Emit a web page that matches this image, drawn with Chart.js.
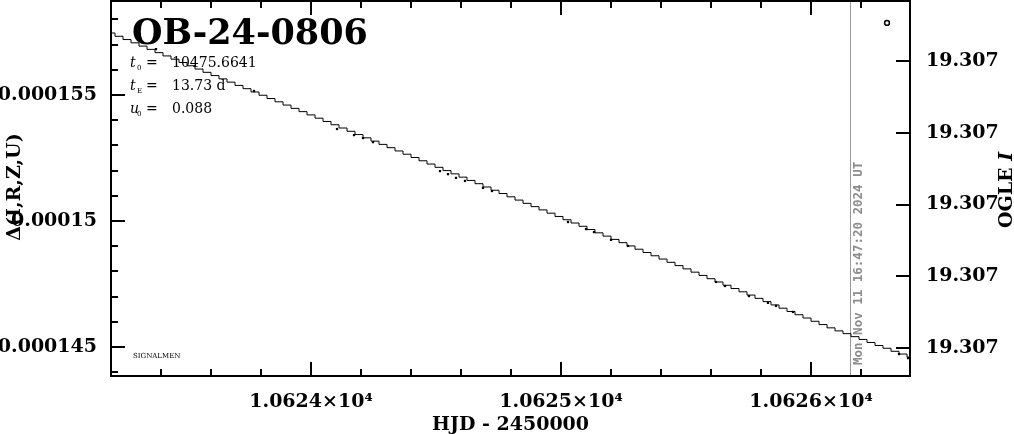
<!DOCTYPE html>
<html>
<head>
<meta charset="utf-8">
<script src="https://cdn.jsdelivr.net/npm/chart.js@4"></script>
<style>
  html, body { margin: 0; padding: 0; background: #fff; }
  #lc { display: block; }
</style>
</head>
<body>
<canvas id="lc" width="1014" height="434"></canvas>
<script>
// model light curve (stairs), HJD - 2450000 vs delta flux
const modelT = [
  10623.200, 10623.232, 10623.264, 10623.296, 10623.328, 10623.360, 10623.392, 10623.424, 10623.456, 10623.488,
  10623.520, 10623.552, 10623.584, 10623.616, 10623.648, 10623.680, 10623.712, 10623.744, 10623.776, 10623.808,
  10623.840, 10623.872, 10623.904, 10623.936, 10623.968, 10624.000, 10624.032, 10624.064, 10624.096, 10624.128,
  10624.160, 10624.192, 10624.224, 10624.256, 10624.288, 10624.320, 10624.352, 10624.384, 10624.416, 10624.448,
  10624.480, 10624.512, 10624.544, 10624.576, 10624.608, 10624.640, 10624.672, 10624.704, 10624.736, 10624.768,
  10624.800, 10624.832, 10624.864, 10624.896, 10624.928, 10624.960, 10624.992, 10625.024, 10625.056, 10625.088,
  10625.120, 10625.152, 10625.184, 10625.216, 10625.248, 10625.280, 10625.312, 10625.344, 10625.376, 10625.408,
  10625.440, 10625.472, 10625.504, 10625.536, 10625.568, 10625.600, 10625.632, 10625.664, 10625.696, 10625.728,
  10625.760, 10625.792, 10625.824, 10625.856, 10625.888, 10625.920, 10625.952, 10625.984, 10626.016, 10626.048,
  10626.080, 10626.112, 10626.144, 10626.176, 10626.208, 10626.240, 10626.272, 10626.304, 10626.336, 10626.368,
  10626.400
];
const modelV = [
  0.00015746, 0.00015733, 0.00015720, 0.00015707, 0.00015694, 0.00015681, 0.00015668, 0.00015655, 0.00015642, 0.00015629,
  0.00015616, 0.00015603, 0.00015590, 0.00015577, 0.00015564, 0.00015551, 0.00015538, 0.00015525, 0.00015512, 0.00015499,
  0.00015486, 0.00015473, 0.00015460, 0.00015447, 0.00015434, 0.00015421, 0.00015408, 0.00015395, 0.00015382, 0.00015369,
  0.00015356, 0.00015343, 0.00015330, 0.00015317, 0.00015304, 0.00015291, 0.00015278, 0.00015265, 0.00015252, 0.00015239,
  0.00015226, 0.00015213, 0.00015200, 0.00015187, 0.00015174, 0.00015161, 0.00015148, 0.00015135, 0.00015122, 0.00015109,
  0.00015096, 0.00015083, 0.00015070, 0.00015057, 0.00015044, 0.00015031, 0.00015018, 0.00015005, 0.00014992, 0.00014979,
  0.00014966, 0.00014953, 0.00014940, 0.00014927, 0.00014914, 0.00014901, 0.00014888, 0.00014875, 0.00014862, 0.00014849,
  0.00014836, 0.00014823, 0.00014810, 0.00014797, 0.00014784, 0.00014771, 0.00014758, 0.00014745, 0.00014732, 0.00014719,
  0.00014706, 0.00014693, 0.00014680, 0.00014667, 0.00014654, 0.00014641, 0.00014628, 0.00014615, 0.00014602, 0.00014589,
  0.00014576, 0.00014564, 0.00014553, 0.00014541, 0.00014530, 0.00014518, 0.00014506, 0.00014495, 0.00014483, 0.00014472,
  0.00014460
];

// OGLE points sitting on the model
const obsT = [10623.380, 10623.772, 10624.104, 10624.172, 10624.208, 10624.248, 10624.516, 10624.548, 10624.580,
  10624.616, 10624.688, 10624.724, 10625.028, 10625.100, 10625.132, 10625.200, 10625.268, 10625.620, 10625.656,
  10625.752, 10625.828, 10625.860, 10625.928, 10626.352, 10626.388];
const obsV = [0.00015682, 0.00015516, 0.00015365, 0.00015341, 0.00015329, 0.00015313, 0.00015198, 0.00015186, 0.00015171,
  0.00015159, 0.00015131, 0.00015119, 0.00014996, 0.00014968, 0.00014956, 0.00014925, 0.00014901, 0.00014758, 0.00014742,
  0.00014702, 0.00014675, 0.00014663, 0.00014639, 0.00014472, 0.00014456];

// open marker top right
const markT = [10626.304];
const markV = [0.00015786];

// axes
const xTicks = [10624, 10625, 10626];
const xTickLabels = ['1.0624\u00d710\u2074', '1.0625\u00d710\u2074', '1.0626\u00d710\u2074'];
const yTicks = [0.000145, 0.00015, 0.000155];
const yTickLabels = ['0.000145', '0.00015', '0.000155'];
const magTicks = [19.3066, 19.3067, 19.3068, 19.3069, 19.3070];
const nowT = 10626.158;

const SERIF = '"DejaVu Serif", serif';

const frameTicks = {
  id: 'frameTicks',
  beforeDatasetsDraw(chart) {
    const ctx = chart.ctx, a = chart.chartArea, x = chart.scales.x;
    const xn = Math.round(x.getPixelForValue(nowT)) + 0.5;
    ctx.save();
    ctx.strokeStyle = '#9a9a9a';
    ctx.lineWidth = 1;
    ctx.beginPath();
    ctx.moveTo(xn, a.top);
    ctx.lineTo(xn, a.bottom);
    ctx.stroke();
    ctx.translate(xn + 8, a.bottom - 11);
    ctx.rotate(-Math.PI / 2);
    ctx.fillStyle = '#8c8c8c';
    ctx.font = 'bold 12.5px "DejaVu Sans Mono", monospace';
    ctx.textBaseline = 'middle';
    ctx.textAlign = 'left';
    ctx.fillText('Mon Nov 11 16:47:20 2024 UT', 0, 0);
    ctx.restore();
  },
  afterDatasetsDraw(chart) {
    const ctx = chart.ctx, a = chart.chartArea;
    const x = chart.scales.x, y = chart.scales.y, m = chart.scales.mag;
    ctx.save();
    ctx.strokeStyle = '#000';
    ctx.lineWidth = 2;
    ctx.strokeRect(a.left, a.top, a.right - a.left, a.bottom - a.top);

    ctx.lineWidth = 2;
    ctx.beginPath();
    // x ticks, bottom and top
    for (let i = 0; i <= 16; i++) {
      const v = 10623.2 + i * 0.2;
      const px = Math.round(x.getPixelForValue(v));
      if (px <= a.left + 1 || px >= a.right - 1) continue;
      const major = Math.abs(v - Math.round(v)) < 1e-6;
      const len = major ? 14 : 7;
      ctx.moveTo(px, a.bottom); ctx.lineTo(px, a.bottom - len);
      ctx.moveTo(px, a.top); ctx.lineTo(px, a.top + len);
    }
    // left ticks
    for (let k = 144; k <= 158; k++) {
      const v = k * 1e-6;
      const py = Math.round(y.getPixelForValue(v));
      if (py <= a.top + 1 || py >= a.bottom) continue;
      const len = (k % 5 === 0) ? 14 : 7;
      ctx.moveTo(a.left, py); ctx.lineTo(a.left + len, py);
    }
    // right ticks (mag)
    magTicks.forEach(v => {
      const py = Math.round(m.getPixelForValue(v));
      ctx.moveTo(a.right, py); ctx.lineTo(a.right - 14, py);
    });
    ctx.stroke();

    // title + parameters
    ctx.fillStyle = '#000';
    ctx.textBaseline = 'alphabetic';
    ctx.textAlign = 'left';
    ctx.font = 'bold 35px ' + SERIF;
    ctx.fillText('OB-24-0806', 132, 44);

    const rows = [['0', '10475.6641', 67], ['E', '13.73 d', 90], ['0', '0.088', 113]];
    rows.forEach((r, i) => {
      ctx.font = 'italic 14px ' + SERIF;
      ctx.fillText(i === 2 ? 'u' : 't', 130, r[2]);
      ctx.font = '7px ' + SERIF;
      ctx.fillText(r[0], 137, r[2] + 3);
      ctx.font = '14px ' + SERIF;
      ctx.fillText('=', 146, r[2]);
      ctx.fillText(r[1], 172, r[2]);
    });

    ctx.font = '7px ' + SERIF;
    ctx.fillText('SIGNALMEN', 133, 358);

    // axis titles
    ctx.font = 'bold 19px ' + SERIF;
    ctx.textAlign = 'center';
    ctx.textBaseline = 'middle';
    ctx.fillText('HJD - 2450000', (a.left + a.right) / 2, 425);

    ctx.save();
    ctx.translate(15, 187);
    ctx.rotate(-Math.PI / 2);
    ctx.fillText('\u0394(I,R,Z,U)', 0, 0);
    ctx.restore();

    ctx.save();
    ctx.translate(1007, 190);
    ctx.rotate(-Math.PI / 2);
    ctx.font = 'bold 19px ' + SERIF;
    const w1 = ctx.measureText('OGLE ').width;
    ctx.font = 'bold italic 19px ' + SERIF;
    const w2 = ctx.measureText('I').width;
    ctx.textAlign = 'left';
    ctx.font = 'bold 19px ' + SERIF;
    ctx.fillText('OGLE ', -(w1 + w2) / 2, 0);
    ctx.font = 'bold italic 19px ' + SERIF;
    ctx.fillText('I', -(w1 + w2) / 2 + w1, 0);
    ctx.restore();

    ctx.restore();
  }
};

const tickFont = { family: SERIF, size: 19, weight: 'bold' };

new Chart(document.getElementById('lc'), {
  data: {
    datasets: [
      {
        type: 'line',
        data: modelT.map((t, i) => ({ x: t, y: modelV[i] })),
        stepped: 'middle',
        borderColor: '#000',
        borderWidth: 1,
        pointRadius: 0,
        fill: false
      },
      {
        type: 'scatter',
        data: obsT.map((t, i) => ({ x: t, y: obsV[i] })),
        pointStyle: 'rect',
        pointRadius: 1.6,
        backgroundColor: '#000',
        borderColor: '#000',
        borderWidth: 0
      },
      {
        type: 'scatter',
        data: markT.map((t, i) => ({ x: t, y: markV[i] })),
        pointStyle: 'circle',
        pointRadius: 2.4,
        backgroundColor: 'rgba(0,0,0,0)',
        borderColor: '#000',
        borderWidth: 1.5
      }
    ]
  },
  options: {
    responsive: false,
    animation: false,
    devicePixelRatio: 1,
    layout: { autoPadding: false, padding: { top: 1, left: 0, right: 0, bottom: 0 } },
    plugins: { legend: { display: false }, tooltip: { enabled: false } },
    scales: {
      x: {
        type: 'linear',
        position: 'bottom',
        min: 10623.2,
        max: 10626.396,
        grid: { display: false },
        border: { display: false },
        afterBuildTicks: s => { s.ticks = xTicks.map(v => ({ value: v })); },
        afterFit: s => { s.height = 58; s.paddingLeft = 0; s.paddingRight = 0; },
        ticks: {
          color: '#000',
          font: tickFont,
          padding: 7,
          maxRotation: 0,
          autoSkip: false,
          callback: v => xTickLabels[xTicks.indexOf(v)]
        }
      },
      y: {
        type: 'linear',
        position: 'left',
        min: 0.0001438492,
        max: 0.00015873,
        grid: { display: false },
        border: { display: false },
        afterBuildTicks: s => { s.ticks = yTicks.map(v => ({ value: v })); },
        afterFit: s => { s.width = 111; s.paddingTop = 0; s.paddingBottom = 0; },
        ticks: {
          color: '#000',
          font: tickFont,
          padding: 6,
          autoSkip: false,
          callback: v => yTickLabels[yTicks.indexOf(v)]
        }
      },
      mag: {
        type: 'linear',
        position: 'right',
        reverse: true,
        min: 19.3065164,
        max: 19.307039,
        grid: { display: false },
        border: { display: false },
        afterBuildTicks: s => { s.ticks = magTicks.map(v => ({ value: v })); },
        afterFit: s => { s.width = 104; s.paddingTop = 0; s.paddingBottom = 0; },
        ticks: {
          color: '#000',
          font: tickFont,
          padding: 8,
          autoSkip: false,
          callback: v => v.toFixed(3)
        }
      }
    }
  },
  plugins: [frameTicks]
});
</script>
</body>
</html>
